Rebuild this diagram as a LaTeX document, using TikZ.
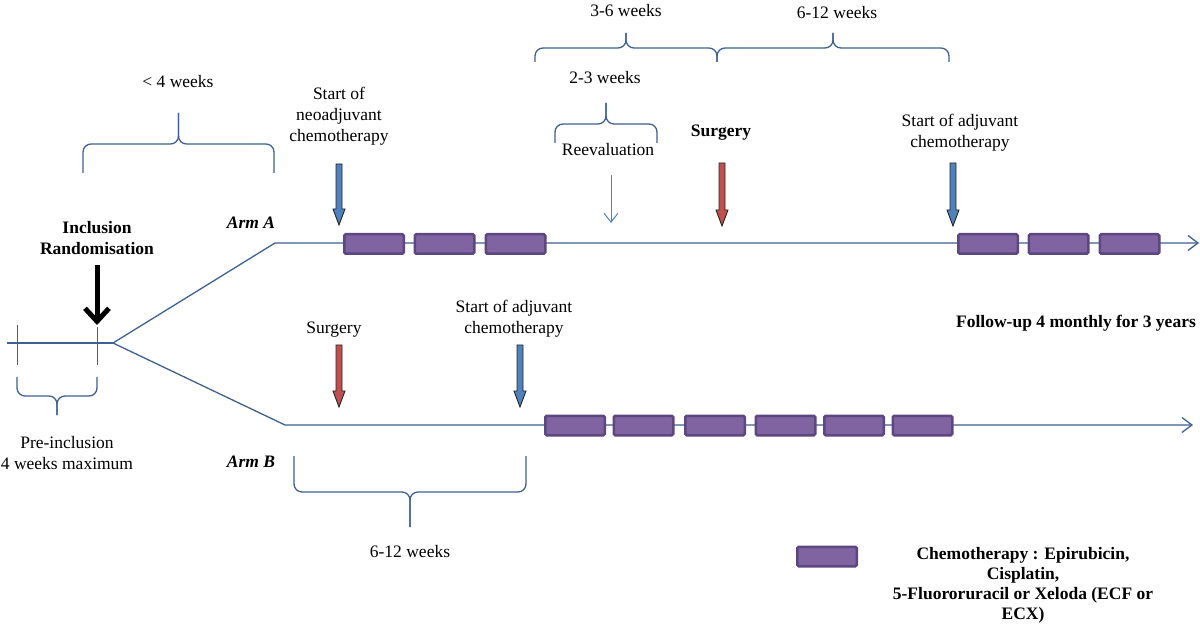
\documentclass[tikz,border=0pt]{standalone}
\usepackage{fontspec}
\setmainfont{Liberation Serif}
\usetikzlibrary{positioning}
\usetikzlibrary{arrows.meta}

\definecolor{lineblue}{RGB}{62,96,146}
\definecolor{arrblue}{RGB}{79,129,189}
\definecolor{arrred}{RGB}{192,80,77}
\definecolor{chemo}{RGB}{128,100,162}
\definecolor{chemoedge}{RGB}{92,71,128}

% brace: x1, x2, y of ends, y of flat part, y of tip
\newcommand\wkbrace[5]{%
  \draw[brc] (#1,#3) -- (#1,#4) -- ({(#1+#2)/2},#4) -- ({(#1+#2)/2},#5);
  \draw[brc] (#2,#3) -- (#2,#4) -- ({(#1+#2)/2},#4) -- ({(#1+#2)/2},#5);}
% block arrow: x, y of top, y of tip, fill
\newcommand\evarrow[4]{%
  \draw[evarr, fill=#4] (#1-3,#2) -- (#1+3,#2) -- (#1+3,#3-16) -- (#1+6,#3-16)
   -- (#1,#3) -- (#1-6,#3-16) -- (#1-3,#3-16) -- cycle;}

\begin{document}
\begin{tikzpicture}[x=1pt,y=-1pt,
  lab/.style={font=\fontsize{17.5}{21}\selectfont, align=center, inner sep=0pt},
  labb/.style={lab, font=\fontsize{17.5}{21}\selectfont\bfseries},
  timeline/.style={draw=lineblue, line width=1.3pt},
  brc/.style={draw=lineblue, line width=1.3pt, rounded corners=8pt},
  evarr/.style={draw=black!85, line width=0.9pt, line join=miter},
  chemobox/.style={draw=chemoedge, fill=chemo, line width=2.5pt,
   rounded corners=1.5pt, minimum width=59.5pt, minimum height=19.5pt, inner sep=0pt}]

 \useasboundingbox (0,0) rectangle (1200,628);

 % pre-inclusion and the two arms
 \coordinate (pre0) at (7,343);
 \coordinate (split) at (113,343);
 \coordinate (armAa) at (275,243);
 \coordinate (armAb) at (1199,243);
 \coordinate (armBa) at (285,425);
 \coordinate (armBb) at (1193,425);
 \draw[timeline] (pre0) -- (split);
 \draw[timeline, line width=1pt] (17,325) -- (17,365);
 \draw[timeline, line width=1pt] (97,327) -- (97,365);
 \draw[timeline, -{Straight Barb[length=10pt,width=15pt]}] (split) -- (armAa) -- (armAb);
 \draw[timeline, -{Straight Barb[length=10pt,width=15pt]}] (split) -- (armBa) -- (armBb);

 \foreach \i/\x in {1/374,2/444.5,3/515.5,4/988,5/1058.5,6/1129.5}
  \node[chemobox] (chA\i) at (\x,244) {};
 \foreach \i/\x in {1/575,2/643.5,3/715,4/785.5,5/854,6/922.5}
  \node[chemobox] (chB\i) at (\x,425.5) {};

 % labels
 \node[labb] (labincl) at (97,238) {Inclusion\\Randomisation};
 \node[labb, font=\fontsize{17.5}{21}\selectfont\bfseries\itshape] (labarmA) at (251,223) {Arm A};
 \node[labb, font=\fontsize{17.5}{21}\selectfont\bfseries\itshape] (labarmB) at (251,462) {Arm B};
 \node[lab] (labpre) at (67,453) {Pre-inclusion\\4 weeks maximum};
 \node[lab] (lab4wk) at (178,82) {< 4 weeks};
 \node[lab] (labneo) at (339,116) {Start of\\neoadjuvant\\chemotherapy};
 \node[lab] (lab36) at (626,11) {3-6 weeks};
 \node[lab] (lab612) at (837,13) {6-12 weeks};
 \node[lab] (lab23) at (605,78) {2-3 weeks};
 \node[lab] (labreeval) at (608,150) {Reevaluation};
 \node[labb] (labsurgA) at (721,133) {Surgery};
 \node[lab] (labadjA) at (960,133) {Start of adjuvant\\chemotherapy};
 \node[labb] (labfollow) at (1076,323) {Follow-up 4 monthly for 3 years};
 \node[lab] (labsurgB) at (334,330) {Surgery};
 \node[lab] (labadjB) at (514,319) {Start of adjuvant\\chemotherapy};
 \node[lab] (lab612B) at (410,552) {6-12 weeks};

 % event arrows
 \coordinate (incltop) at (97,265);
 \coordinate (inclbot) at (97,325);
 \draw[line width=5pt, -{Straight Barb[length=13pt,width=24pt]}] (incltop) -- (inclbot);
 \evarrow{339}{164}{225}{arrblue}
 \evarrow{722}{163}{226}{arrred}
 \evarrow{953}{163}{226}{arrblue}
 \evarrow{339}{345}{407}{arrred}
 \evarrow{520}{345}{407}{arrblue}
 \coordinate (reevtop) at (611,175);
 \coordinate (reevbot) at (611,223);
 \draw[draw=arrblue, line width=1pt, -{Straight Barb[length=9pt,width=14pt]}] (reevtop) -- (reevbot);

 % braces
 \wkbrace{83}{274}{173}{144}{113}
 \wkbrace{535}{717}{62}{48}{33}
 \wkbrace{717}{949}{62}{48}{33}
 \wkbrace{555}{657}{143}{124}{103}
 \wkbrace{17}{97}{377}{396}{415}
 \wkbrace{294}{526}{456}{492}{527}

 % legend
 \node[chemobox] (chLeg) at (827,556.5) {};
 \node[labb, font=\fontsize{17.5}{20}\selectfont\bfseries] (labchemo) at (1023,585)
  {Chemotherapy : Epirubicin,\\Cisplatin,\\5-Fluororuracil or Xeloda (ECF or\\ECX)};
\end{tikzpicture}
\end{document}
